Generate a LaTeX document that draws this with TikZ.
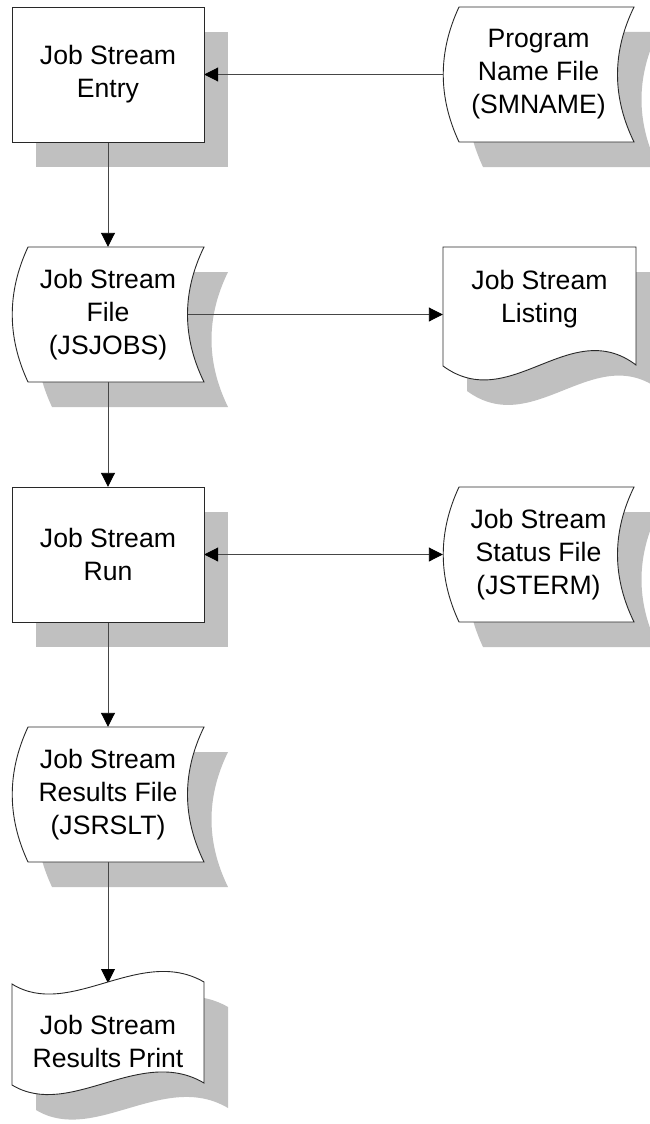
\documentclass[tikz,border=0pt]{standalone}
\usepackage{fontspec}
\setmainfont{Liberation Sans}
\usetikzlibrary{arrows.meta}
\definecolor{shadowgray}{RGB}{192,192,192}
\definecolor{linegray}{RGB}{40,40,40}
\definecolor{conngray}{RGB}{70,70,70}
% stored-data shape: x1 y1 x2 y2
\newcommand\stpath[4]{({#1+16},{#2}) -- ({#3},{#2}) .. controls ({#3-22},{#2+45}) and ({#3-22},{#4-45}) .. ({#3},{#4}) -- ({#1+16},{#4}) .. controls ({#1-5},{#4-45}) and ({#1-5},{#2+45}) .. ({#1+16},{#2}) -- cycle}
% document shape: x1 y1 x2 y2 (y2 = left end of wavy bottom)
\newcommand\docpath[4]{({#1},{#2}) -- ({#3},{#2}) -- ({#3},{#4-1}) .. controls ({#3-66},{#4-51}) and ({#1+67},{#4+49}) .. ({#1},{#4}) -- cycle}
% punched tape shape
\newcommand\tapepath[4]{({#1},{#2}) .. controls ({#1+58},{#2+36}) and ({#3-64},{#2-39}) .. ({#3},{#2-2}) -- ({#3},{#4-2}) .. controls ({#3-64},{#4-40}) and ({#1+58},{#4+35}) .. ({#1},{#4}) -- cycle}
\begin{document}
\begin{tikzpicture}[x=1pt,y=-1pt,
  txt/.style={align=center,inner sep=0pt,font=\fontsize{26.6}{33}\selectfont},
  shade/.style={fill=shadowgray,draw=none},
  shp/.style={fill=white,draw=linegray,line width=0.9pt},
  tip/.style={Triangle[length=14pt,width=14pt,color=black]},
  conn/.style={draw=conngray,line width=0.9pt,-{Triangle[length=14pt,width=14pt,color=black]}},
  conn2/.style={draw=conngray,line width=0.9pt,{Triangle[length=14pt,width=14pt,color=black]}-{Triangle[length=14pt,width=14pt,color=black]}}]
\useasboundingbox (0,0) rectangle (650,1124);
\clip (0,0) rectangle (650,1124);
% shadows
\begin{scope}[shift={(24,25)}]
\fill[shade] (12,7) rectangle (204,142);
\fill[shade] \stpath{443}{7}{634}{142};
\fill[shade] \stpath{12}{247}{204}{382};
\fill[shade] \docpath{443}{247}{636}{366};
\fill[shade] (12,487) rectangle (204,622);
\fill[shade] \stpath{443}{487}{634}{622};
\fill[shade] \stpath{12}{727}{204}{862};
\fill[shade] \tapepath{12}{984}{204}{1085};
\end{scope}
% text frames (invisible)
\node[txt,minimum width=192pt,minimum height=135pt] (entry) at (108,74.5) {};
\node[txt,minimum width=191pt,minimum height=135pt] (smname) at (538.5,74.5) {};
\node[txt,minimum width=192pt,minimum height=135pt] (jsjobs) at (108,314.5) {};
\node[txt,minimum width=193pt,minimum height=119pt] (listing) at (539.5,306.5) {};
\node[txt,minimum width=192pt,minimum height=135pt] (run) at (108,554.5) {};
\node[txt,minimum width=191pt,minimum height=135pt] (jsterm) at (538.5,554.5) {};
\node[txt,minimum width=192pt,minimum height=135pt] (jsrslt) at (108,794.5) {};
\node[txt,minimum width=192pt,minimum height=100pt] (print) at (108,1034.5) {};
\coordinate (jsjobsR) at (187.5,314.5);
\coordinate (ptop) at (108,983);
% connectors
\draw[conn] (smname.west) -- (entry.east);
\draw[conn] (entry.south) -- (jsjobs.north);
\draw[conn] (jsjobsR) -- (jsjobsR -| listing.west);
\draw[conn] (jsjobs.south) -- (run.north);
\draw[conn2] (run.east) -- (jsterm.west);
\draw[conn] (run.south) -- (jsrslt.north);
\draw[conn] (jsrslt.south) -- (ptop);
% shapes
\draw[shp] (12,7) rectangle (204,142);
\draw[shp] \stpath{443}{7}{634}{142};
\draw[shp] \stpath{12}{247}{204}{382};
\draw[shp] \docpath{443}{247}{636}{366};
\draw[shp] (12,487) rectangle (204,622);
\draw[shp] \stpath{443}{487}{634}{622};
\draw[shp] \stpath{12}{727}{204}{862};
\draw[shp] \tapepath{12}{984}{204}{1085};
% texts on top
\node[txt] at (entry) {Job Stream\\Entry};
\node[txt] at (smname) {Program\\Name File\\(SMNAME)};
\node[txt] at (jsjobs) {Job Stream\\File\\(JSJOBS)};
\node[txt] at (539.5,299) {Job Stream\\Listing};
\node[txt] at (run) {Job Stream\\Run};
\node[txt] at (jsterm) {Job Stream\\Status File\\(JSTERM)};
\node[txt] at (jsrslt) {Job Stream\\Results File\\(JSRSLT)};
\node[txt] at (108,1041) {Job Stream\\Results Print};
\end{tikzpicture}
\end{document}
